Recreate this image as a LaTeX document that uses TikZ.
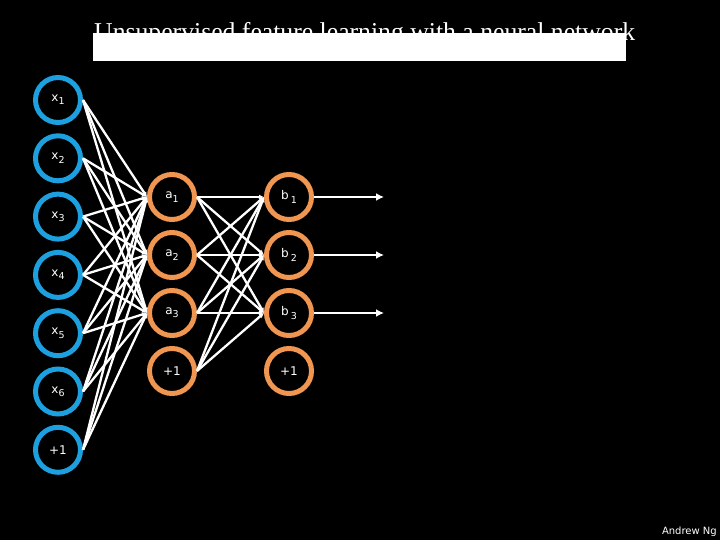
\documentclass[tikz,border=0pt]{standalone}
\usepackage{fontspec}
\setsansfont{DejaVu Sans}
\newfontfamily\titlefont{Liberation Serif}
\usetikzlibrary{arrows.meta,positioning}
\definecolor{inblue}{RGB}{28,160,224}
\definecolor{hidorange}{RGB}{240,150,80}
\newcommand{\idx}[1]{\raisebox{-0.5ex}{\fontsize{9.5}{10}\selectfont#1}}

\begin{document}
\begin{tikzpicture}[
  x=1pt, y=-1pt,
  node distance=8.3pt,
  font=\sffamily\fontsize{12}{14}\selectfont,
  unit/.style={circle, draw, line width=5pt, minimum size=45pt, inner sep=0pt, text=white},
  inunit/.style={unit, draw=inblue},
  hidunit/.style={unit, draw=hidorange},
  wire/.style={white, line width=2.3pt, -{Latex[length=5pt,width=5pt]}},
  outarrow/.style={white, line width=2.3pt, -{Latex[length=8pt,width=8pt]}}
]
\fill[black] (0,0) rectangle (720,540);
\useasboundingbox (0,0) rectangle (720,540);

% title, partly hidden by the white bar
\node[anchor=base west, inner sep=0pt, text=white, font=\titlefont\fontsize{25.7}{28}\selectfont] (title) at (94,41) {Unsupervised feature learning with a neural network};
\fill[white] (92.5,33) rectangle (626,61);

% input layer
\node[inunit] (x1) at (58,100) {x\idx{1}};
\node[inunit, below=of x1] (x2) {x\idx{2}};
\node[inunit, below=of x2] (x3) {x\idx{3}};
\node[inunit, below=of x3] (x4) {x\idx{4}};
\node[inunit, below=of x4] (x5) {x\idx{5}};
\node[inunit, below=of x5] (x6) {x\idx{6}};
\node[inunit, below=of x6] (x7) {+1};

% first hidden layer
\node[hidunit] (a1) at (172,197) {a\idx{1}};
\node[hidunit, below=8pt of a1] (a2) {a\idx{2}};
\node[hidunit, below=8pt of a2] (a3) {a\idx{3}};
\node[hidunit, below=8pt of a3] (a4) {+1};

% second hidden layer
\node[hidunit] (b1) at (289,197) {b\,\idx{1}};
\node[hidunit, below=8pt of b1] (b2) {b\,\idx{2}};
\node[hidunit, below=8pt of b2] (b3) {b\,\idx{3}};
\node[hidunit, below=8pt of b3] (b4) {+1};

% connections
\foreach \i in {1,...,7}
  \foreach \j in {1,2,3}
    \draw[wire] (x\i.east) -- (a\j.west);
\foreach \i in {1,...,4}
  \foreach \j in {1,2,3}
    \draw[wire] (a\i.east) -- (b\j.west);
\foreach \j in {1,2,3} {
  \path (b\j.east) ++(70,0) coordinate (o\j);
  \draw[outarrow] (b\j.east) -- (o\j);
}

\node[anchor=base east, inner sep=0pt, text=white, font=\sffamily\fontsize{10}{11}\selectfont] (credit) at (717,534) {Andrew Ng};

\end{tikzpicture}
\end{document}
